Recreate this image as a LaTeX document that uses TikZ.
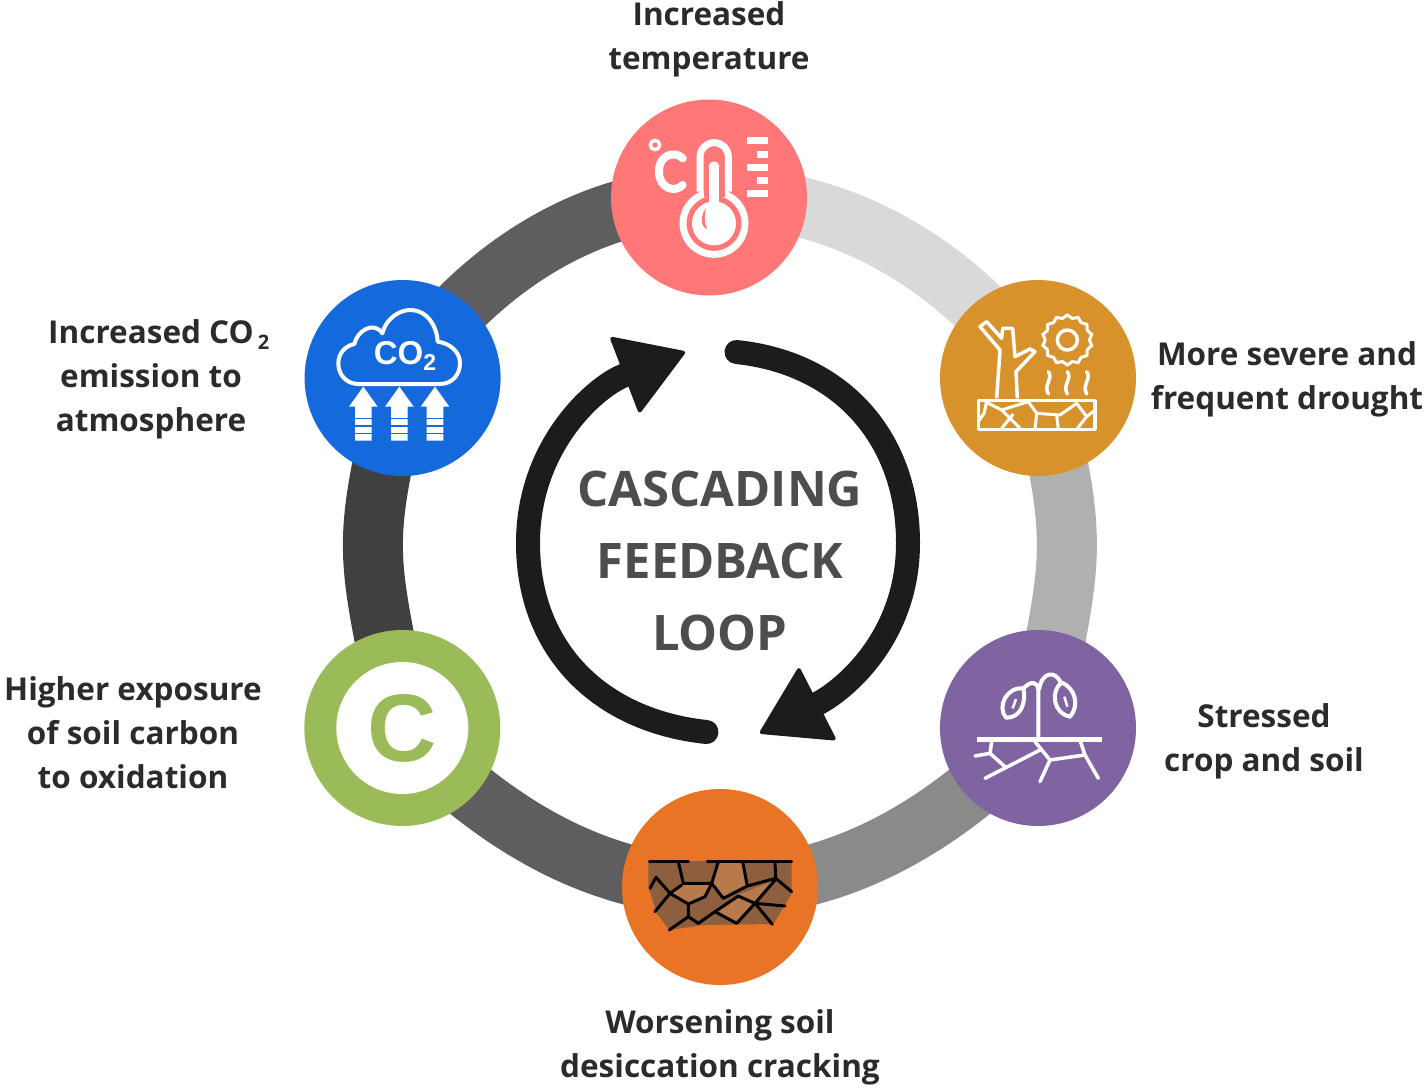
\documentclass[tikz,border=0pt]{standalone}
\usepackage{fontspec}
\setmainfont{Open Sans}
\newfontfamily\headfont{Liberation Sans}
\usetikzlibrary{arrows.meta,backgrounds,shapes.geometric}
\definecolor{tempcol}{HTML}{FF7777}
\definecolor{droughtcol}{HTML}{D8922B}
\definecolor{cropcol}{HTML}{8064A2}
\definecolor{soilcol}{HTML}{E97425}
\definecolor{carboncol}{HTML}{9BBB59}
\definecolor{co2col}{HTML}{146ADC}
\definecolor{loopcol}{HTML}{1C1C1C}
\definecolor{labelcol}{HTML}{2B2B2B}
\definecolor{headcol}{HTML}{4D4D4D}
\definecolor{clodcol}{HTML}{8E5F3F}
\definecolor{clodlight}{HTML}{B87A4C}
\tikzset{
  hub/.style={circle,minimum size=196pt,inner sep=0pt},
  ringseg/.style={line width=60pt},
  looparrow/.style={line width=24pt,color=loopcol,line cap=round,
    -{Triangle[length=67pt,width=83pt,line width=4pt,round]}},
  steplabel/.style={font=\bfseries\fontsize{31.5}{44}\selectfont,text=labelcol,align=center,inner sep=0pt},
  iconline/.style={draw=white,line width=3.5pt,line join=round},
  crack/.style={draw=black,line width=3pt,line cap=round,line join=round}
}
\begin{document}
\begin{tikzpicture}[x=1pt,y=-1pt]
\useasboundingbox (0,0) rectangle (1425,1090);
% hubs
\node[hub,fill=tempcol](temp) at (709,197.5) {};
\node[hub,fill=droughtcol](drought) at (1038,378) {};
\node[hub,fill=cropcol](crop) at (1038,728) {};
\node[hub,fill=soilcol](soil) at (720,887) {};
\node[hub,fill=carboncol](carbon) at (402.3,728) {};
\node[hub,fill=co2col](co2) at (402.6,378) {};
% ring
\begin{scope}[on background layer]
\draw[ringseg,color=black!15](temp.center) to[out=2,in=124,looseness=0.9] (drought.center);
\draw[ringseg,color=black!31](drought.center) to[out=-76,in=79,looseness=1.3] (crop.center);
\draw[ringseg,color=black!46](crop.center) to[out=-133,in=0,looseness=0.9] (soil.center);
\draw[ringseg,color=black!63](soil.center) to[out=180,in=-47,looseness=0.9] (carbon.center);
\draw[ringseg,color=black!75](carbon.center) to[out=101,in=-104,looseness=1.33] (co2.center);
\draw[ringseg,color=black!63](co2.center) to[out=56,in=180,looseness=0.9] (temp.center);
\end{scope}
% inner loop
\coordinate(looptop) at (736.5,352);
\coordinate(loopright) at (908,543);
\coordinate(looptip) at (760,733);
\coordinate(loopbottom) at (706.5,732);
\coordinate(loopleft) at (528,543);
\coordinate(loopend) at (685,352);
\draw[looparrow](looptop) to[out=-6,in=90,looseness=1.05] (loopright) to[out=-90,in=27,looseness=1] (looptip);
\draw[looparrow](loopbottom) to[out=174,in=-90,looseness=1.05] (loopleft) to[out=90,in=201,looseness=1] (loopend);
% texts
\node[font=\bfseries\fontsize{49}{72}\selectfont,text=headcol,align=center,inner sep=0pt](title) at (720,561) {CASCADING\\FEEDBACK\\LOOP};
\node[steplabel](templabel) at (709,39) {Increased\\temperature};
\node[steplabel](droughtlabel) at (1287,379) {More severe and\\frequent drought};
\node[steplabel](croplabel) at (1264,741) {Stressed\\crop and soil};
\node[steplabel](soillabel) at (720,1047) {Worsening soil\\desiccation cracking};
\node[steplabel](carbonlabel) at (133,733) {Higher exposure\\of soil carbon\\to oxidation};
\node[steplabel](co2label) at (151,379) {Increased CO\rlap{\hspace{4pt}\raisebox{-6pt}{\fontsize{20}{20}\selectfont 2}}\\emission to\\atmosphere};
% carbon
\node[circle,fill=white,minimum size=132pt,inner sep=0pt](carbonhole) at (402.3,728) {};
\node[font=\headfont\bfseries\fontsize{96}{96}\selectfont,text=carboncol,inner sep=0pt](carbonc) at (402.3,728) {C};
% thermometer
\begin{scope}[shift={(600,120)},scale=1/3]
\draw[iconline](165,75) circle[radius=14];
\draw[iconline,line width=8pt,line cap=round](248,115) .. controls (225,90) and (175,105) .. (177,155) .. controls (177,205) and (225,220) .. (248,195);
\draw[iconline,line width=7pt](342,310) circle[radius=93];
\fill[tempcol](311,195) rectangle (374,232);
\draw[iconline,line width=7pt,rounded corners=14pt](300,215) -- (300,68) -- (385,68) -- (385,215);
\fill[white](342,310) circle[radius=66];
\fill[white](326,140) rectangle (358,260);
\fill[white](342,140) circle[radius=16];
\fill[tempcol](318,265) .. controls (298,290) and (303,322) .. (322,327) .. controls (310,305) and (314,285) .. (318,265);
\foreach \ty/\tx in {52/440,94/470,133/440,172/470,211/440}
  \fill[white](\tx,\ty) rectangle (505,\ty+21);
\end{scope}
% dead tree and sun
\begin{scope}[shift={(930,270)},scale=1/3]
\draw[iconline](200,385) -- (210,240) -- (150,170) -- (170,155) -- (215,205) -- (218,175) -- (248,175) -- (255,260) -- (300,237) -- (315,245) -- (258,305) -- (262,385);
\draw[iconline](145,392) rectangle (495,478);
\draw[iconline,line width=3pt](170,395) -- (162,430) -- (145,455);
\draw[iconline,line width=3pt](165,395) -- (215,420) -- (295,395);
\draw[iconline,line width=3pt](215,420) -- (270,475);
\draw[iconline,line width=3pt](215,475) -- (250,432);
\draw[iconline,line width=3pt](295,395) -- (320,430) -- (390,435) -- (440,400) -- (470,440) -- (495,420);
\draw[iconline,line width=3pt](320,430) -- (315,478);
\draw[iconline,line width=3pt](380,435) -- (385,478);
\draw[iconline,line width=3pt](470,440) -- (440,478);
\node[star,star points=14,star point ratio=1.13,draw=white,line width=3pt,minimum size=50pt,inner sep=0pt](sun) at (412,210) {};
\draw[iconline](412,210) circle[radius=30];
\foreach \wx in {355,412,470}
  \draw[iconline,line cap=round](\wx,305) .. controls (\wx+16,325) and (\wx-16,345) .. (\wx,372);
\end{scope}
% cloud
\begin{scope}[shift={(295,270)},scale=1/3]
\draw[iconline,line width=4pt](190,342) .. controls (155,342) and (130,315) .. (130,280) .. controls (130,250) and (150,228) .. (178,222) .. controls (185,185) and (235,150) .. (262,190) .. controls (275,140) and (320,118) .. (350,120) .. controls (395,122) and (425,165) .. (428,215) .. controls (465,220) and (495,245) .. (495,280) .. controls (495,315) and (470,342) .. (435,342) -- cycle;
\node[font=\headfont\bfseries\fontsize{33}{33}\selectfont,text=white,inner sep=0pt](co2text) at (330,258) {CO\raisebox{-6.5pt}{\fontsize{23}{23}\selectfont 2}};
\foreach \ax in {205,313,420}{
  \fill[white](\ax,350) -- (\ax+43,410) -- (\ax+25,410) -- (\ax+25,512) -- (\ax-25,512) -- (\ax-25,410) -- (\ax-43,410) -- cycle;
  \foreach \ay in {445,468,490}
    \draw[co2col,line width=1.6pt](\ax-26,\ay) -- (\ax+26,\ay);
}
\end{scope}
% wilted plant
\begin{scope}[shift={(930,625)},scale=1/3]
\draw[iconline,line width=5pt](140,343) -- (517,343);
\draw[iconline,line width=4pt](325,340) -- (325,195) .. controls (322,165) and (300,170) .. (280,190);
\draw[iconline,line width=4pt](327,195) .. controls (335,140) and (375,135) .. (392,172);
\draw[iconline,line width=4pt](280,190) .. controls (230,185) and (200,245) .. (228,278) .. controls (270,280) and (290,235) .. (280,190);
\draw[iconline,line width=4pt](395,172) .. controls (360,200) and (370,265) .. (420,275) .. controls (450,240) and (435,190) .. (395,172);
\draw[iconline,line width=2.5pt](258,222) -- (248,250);
\draw[iconline,line width=2.5pt](403,215) -- (412,245);
\draw[iconline,line cap=round](185,350) -- (180,385) -- (135,393);
\draw[iconline,line cap=round](180,385) -- (225,425);
\draw[iconline,line cap=round](315,350) -- (360,405) -- (465,390) -- (450,345);
\draw[iconline,line cap=round](465,390) -- (505,460);
\draw[iconline,line cap=round](360,405) -- (330,470);
\draw[iconline,line cap=round](330,375) -- (165,460);
\end{scope}
% cracked soil
\begin{scope}[shift={(610,790)},scale=1/3]
\fill[clodcol](115,213) -- (545,213) -- (545,310) -- (525,345) -- (490,402) -- (280,405) -- (178,420) -- (140,370) -- (115,290) -- cycle;
\fill[clodlight](325,218) -- (395,218) -- (412,285) -- (340,325) -- (308,280) -- cycle;
\fill[clodlight](180,310) -- (215,285) -- (302,285) -- (285,320) -- (235,342) -- cycle;
\fill[clodlight](315,365) -- (380,322) -- (432,345) -- (380,400) -- cycle;
\fill[clodlight](385,315) -- (495,270) -- (435,340) -- cycle;
\draw[crack](118,213) -- (235,213);
\draw[crack](292,213) -- (545,213);
\draw[crack](205,215) -- (220,280) -- (305,280) -- (325,215);
\draw[crack](305,280) -- (340,325) -- (412,288) -- (398,215);
\draw[crack](412,288) -- (497,265) -- (495,215);
\draw[crack](497,265) -- (545,305);
\draw[crack](120,295) -- (138,262) -- (180,310) -- (235,342) -- (235,380) -- (265,400) -- (315,365) -- (385,318) -- (435,340) -- (525,348);
\draw[crack](180,310) -- (135,365);
\draw[crack](180,310) -- (215,285);
\draw[crack](235,342) -- (285,320) -- (305,280);
\draw[crack](235,380) -- (178,420);
\draw[crack](315,365) -- (380,400) -- (435,340) -- (497,268);
\draw[crack](435,340) -- (487,403);
\end{scope}
\end{tikzpicture}
\end{document}
